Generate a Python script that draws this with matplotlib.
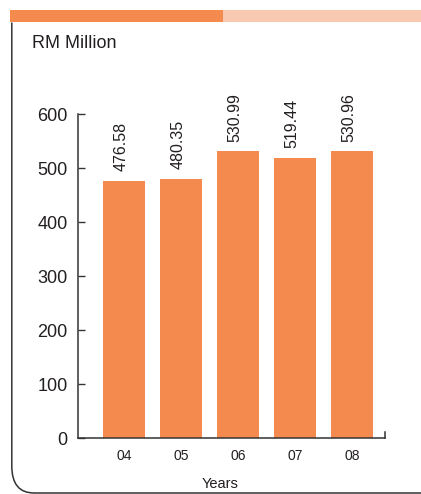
import matplotlib
matplotlib.use("Agg")
import matplotlib.pyplot as plt
from matplotlib.patches import Rectangle
from matplotlib.path import Path
from matplotlib.patches import PathPatch

plt.rcParams['font.family'] = ['Liberation Sans', 'DejaVu Sans']

years = ["04", "05", "06", "07", "08"]
values = [476.58, 480.35, 530.99, 519.44, 530.96]
value_labels = ["476.58", "480.35", "530.99", "519.44", "530.96"]
yticks = [0, 100, 200, 300, 400, 500, 600]

W, H = 421, 494
fig = plt.figure(figsize=(W/100, H/100), dpi=100)

bar_color = "#F48A4E"
light_color = "#F9C9B2"
text_color = "#231F20"

def fx(px): return px / W
def fy(py): return 1 - py / H

# top banner
fig.patches.append(Rectangle((fx(10), fy(22.5)), fx(223) - fx(10), fy(10) - fy(22.5),
                             transform=fig.transFigure, color=bar_color, lw=0))
fig.patches.append(Rectangle((fx(223), fy(22.5)), fx(421) - fx(223), fy(10) - fy(22.5),
                             transform=fig.transFigure, color=light_color, lw=0))

# frame with rounded corner
verts = [(fx(11.8), fy(22.5)), (fx(11.8), fy(466)),
         (fx(11.8), fy(493)), (fx(34), fy(493)),
         (fx(421), fy(493))]
codes = [Path.MOVETO, Path.LINETO, Path.CURVE3, Path.CURVE3, Path.LINETO]
fig.patches.append(PathPatch(Path(verts, codes), transform=fig.transFigure,
                             fill=False, lw=1.1, edgecolor="#333333"))

fig.text(fx(32), fy(43), "RM Million", fontsize=13, color=text_color,
         ha='left', va='center')

ax = fig.add_axes([fx(78), fy(438), fx(385) - fx(78), fy(114) - fy(438)])
x = list(range(len(years)))
ax.bar(x, values, width=0.74, color=bar_color, zorder=2)
ax.set_xlim(-0.807, 4.579)
ax.set_ylim(0, 600)
ax.set_yticks(yticks)
ax.set_yticklabels([str(t) for t in yticks], fontsize=13, color=text_color)
ax.tick_params(axis='y', direction='in', length=5, width=1, pad=7.5, color="#333333")
ax.set_xticks(x)
ax.set_xticklabels(years, fontsize=10, color=text_color)
ax.tick_params(axis='x', length=0, pad=8)
for s in ['top', 'right']:
    ax.spines[s].set_visible(False)
for s in ['left', 'bottom']:
    ax.spines[s].set_linewidth(1.1)
    ax.spines[s].set_color("#333333")
# small end tick at right of x axis
ax.plot([1, 1], [0, 0.018], transform=ax.transAxes, color="#333333", lw=1.1, clip_on=False)

for xi, v, lab in zip(x, values, value_labels):
    ax.annotate(lab, (xi, v), xytext=(-2, 7), textcoords='offset points',
                rotation=90, ha='center', va='bottom', fontsize=11.5, color=text_color)

fig.text(fx(220), fy(484), "Years", fontsize=10.5, color=text_color, ha='center', va='center')

fig.savefig("out.png", dpi=100)
